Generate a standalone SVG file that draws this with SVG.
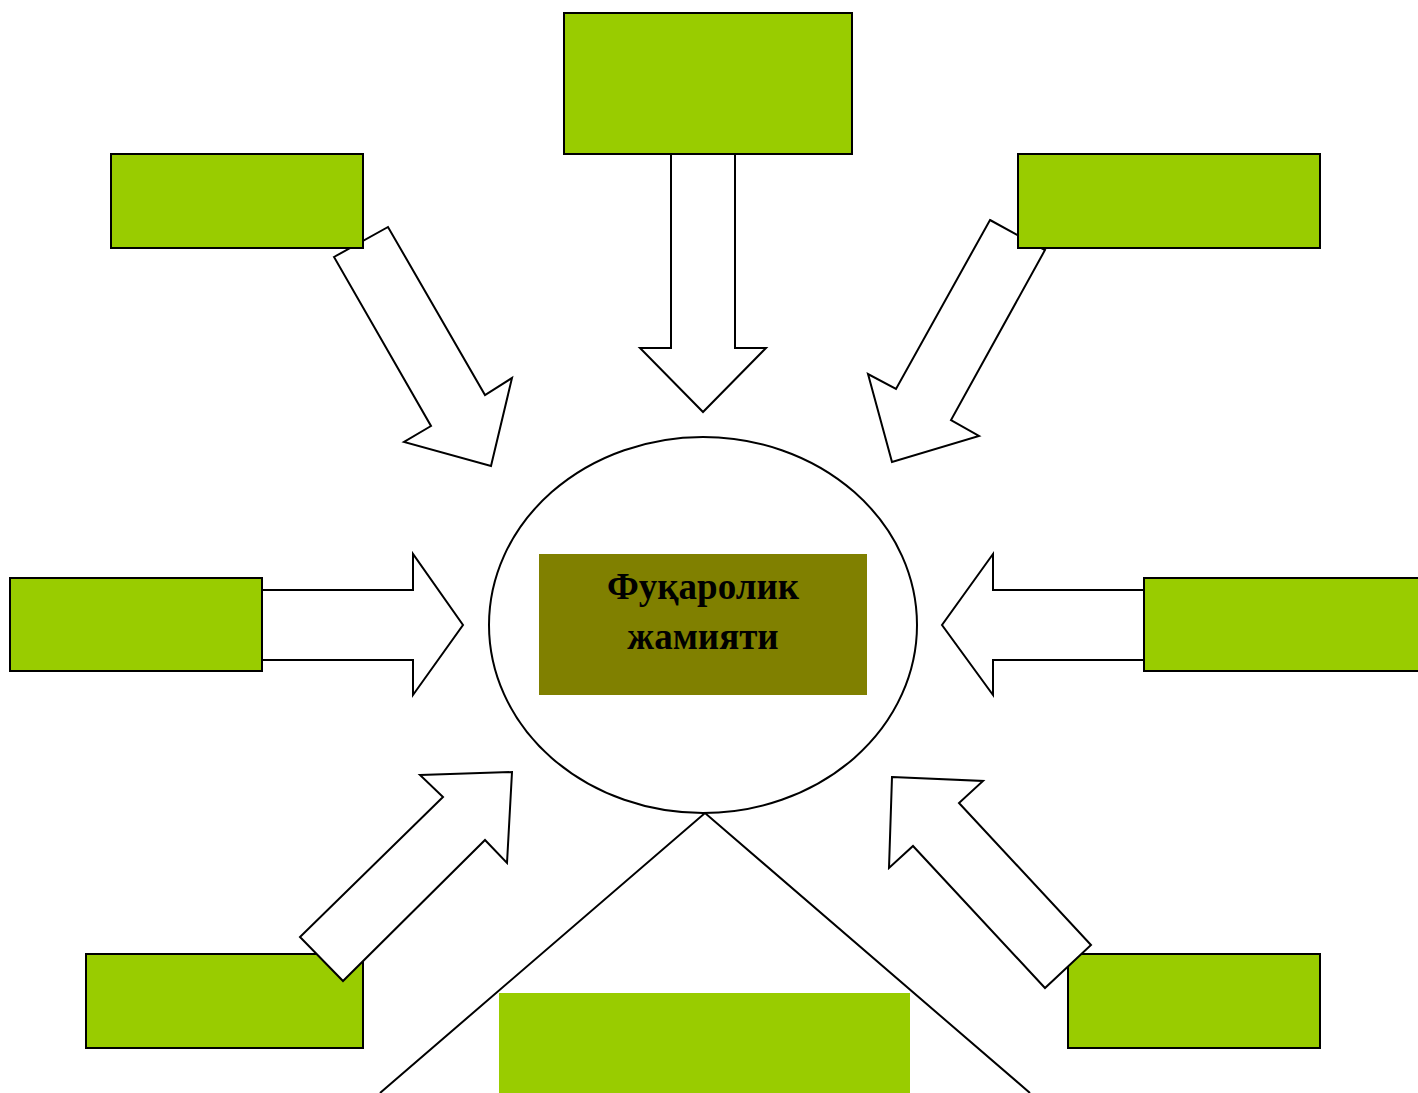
<svg xmlns="http://www.w3.org/2000/svg" width="1418" height="1093" viewBox="0 0 1418 1093">
<style>
.box{fill:#99CC00;stroke:#000;stroke-width:2}
.arrow{fill:#fff;stroke:#000;stroke-width:2;stroke-linejoin:miter}
.line{fill:none;stroke:#000;stroke-width:2}
.title{font-family:"Liberation Serif","Times New Roman",serif;font-weight:bold;font-size:37px;fill:#000;text-anchor:middle}
</style>
<rect width="1418" height="1093" fill="#fff"/>
<g id="connectors">
<polygon class="arrow" points="671,154 735,154 735,348 766,348 703,412 640,348 671,348"/>
<polygon class="arrow" points="334,257 388,227 485,395 512,378 491,466 404,442 431,426"/>
<polygon class="arrow" points="990,220 1045,250 951,420 979,436 892,462 868,374 896,389"/>
<polygon class="arrow" points="240,590 413,590 413,554 463,625 413,695 413,660 240,660"/>
<polygon class="arrow" points="1170,590 993,590 993,554 942,625 993,695 993,660 1170,660"/>
<polyline class="line" points="380,1093 705,813 1030,1093"/>
</g>
<g id="node-top"><rect class="box" x="564" y="13" width="288" height="141"/></g>
<g id="node-top-left"><rect class="box" x="111" y="154" width="252" height="94"/></g>
<g id="node-top-right"><rect class="box" x="1018" y="154" width="302" height="94"/></g>
<g id="node-left"><rect class="box" x="10" y="578" width="252" height="93"/></g>
<g id="node-right"><rect class="box" x="1144" y="578" width="280" height="93"/></g>
<g id="node-bottom-left"><rect class="box" x="86" y="954" width="277" height="94"/></g>
<g id="node-bottom-right"><rect class="box" x="1068" y="954" width="252" height="94"/></g>
<g id="node-bottom"><rect x="499" y="993" width="411" height="100" fill="#99CC00"/></g>
<g id="connectors-front">
<polygon class="arrow" points="420,775 512,772 507,863 485,840 343,981 300,937 443,797"/>
<polygon class="arrow" points="892,777 983,781 959,803 1091,945 1045,988 913,846 889,868"/>
</g>
<g id="node-center">
<ellipse cx="703" cy="625" rx="214" ry="188" fill="#fff" stroke="#000" stroke-width="2"/>
<rect x="539" y="554" width="328" height="141" fill="#808000"/>
<text class="title" x="703" y="599">Фуқаролик</text>
<text class="title" x="703" y="649">жамияти</text>
</g>
</svg>
